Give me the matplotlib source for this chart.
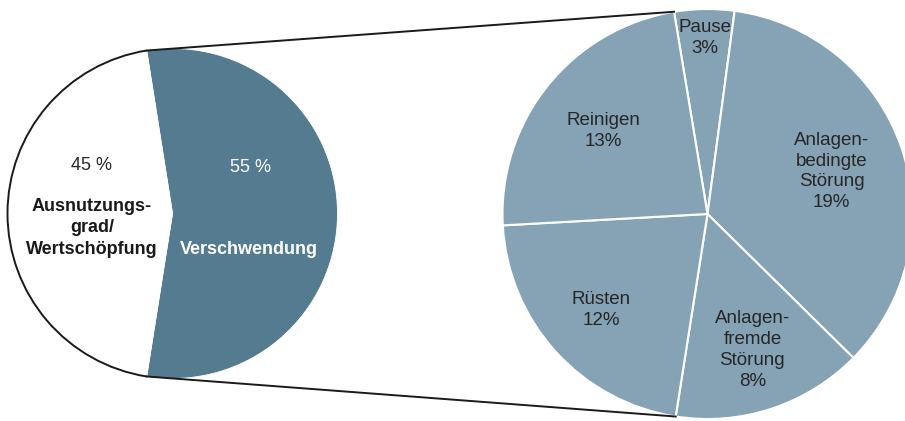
import numpy as np
import matplotlib.pyplot as plt
from matplotlib.patches import Arc

plt.rcParams['font.family'] = ['Liberation Sans', 'DejaVu Sans']

# Linke Torte: Anteil Verschwendung / Wertschöpfung
left_values = [55, 45]
left_pct = ['55 %', '45 %']
left_names = ['Verschwendung', 'Ausnutzungs-\ngrad/\nWertschöpfung']

# Rechte Torte: Aufteilung der Verschwendung (Winkel aus dem Bild geschätzt)
right_names = ['Pause', 'Anlagen-\nbedingte\nStörung', 'Anlagen-\nfremde\nStörung', 'Rüsten', 'Reinigen']
right_values = [2.6, 19.4, 8.3, 11.9, 12.8]
right_labels = ['3%', '19%', '8%', '12%', '13%']

W, H = 905, 421
dark = '#557b90'
light = '#86a3b6'

fig = plt.figure(figsize=(W / 100, H / 100), dpi=100)
ax = fig.add_axes([0, 0, 1, 1])
ax.set_xlim(0, W)
ax.set_ylim(0, H)
ax.set_aspect('equal')
ax.axis('off')

# linke Torte
lc, lr = (172.5, 207.5), 165
lw_, _ = ax.pie(left_values, colors=[dark, 'white'], startangle=99, counterclock=False,
                center=lc, radius=lr, frame=True,
                wedgeprops=dict(edgecolor='white', linewidth=0.6))
ax.add_patch(Arc(lc, 2 * lr, 2 * lr, theta1=lw_[1].theta1, theta2=lw_[1].theta2,
                 color='#1a1a1a', lw=1.4, zorder=3))

ax.text(91, H - 166, left_pct[1], ha='center', va='center', fontsize=13, color='#262626')
ax.text(92, H - 228, left_names[1], ha='center', va='center', fontsize=13,
        fontweight='bold', color='#1a1a1a', linespacing=1.32)
ax.text(250, H - 167, left_pct[0], ha='center', va='center', fontsize=13, color='white')
ax.text(249, H - 250, left_names[0], ha='center', va='center', fontsize=13,
        fontweight='bold', color='white')

# rechte Torte
rc, rr = (707.5, 207), 205
rw, _ = ax.pie(right_values, colors=[light] * 5, startangle=99.4, counterclock=False,
               center=rc, radius=rr, frame=True,
               wedgeprops=dict(edgecolor='white', linewidth=1.5))

label_dist = [0.86, 0.64, 0.70, 0.70, 0.65]
for w, name, lab, d in zip(rw, right_names, right_labels, label_dist):
    ang = np.deg2rad((w.theta1 + w.theta2) / 2)
    x = rc[0] + d * rr * np.cos(ang)
    y = rc[1] + d * rr * np.sin(ang)
    ax.text(x, y, name + '\n' + lab, ha='center', va='center', fontsize=13.5,
            color='#262626', linespacing=1.3)

# Verbindungslinien
def pt(c, r, a):
    return c[0] + r * np.cos(np.deg2rad(a)), c[1] + r * np.sin(np.deg2rad(a))

x1, y1 = pt(lc, lr, lw_[0].theta2)
x2, y2 = pt(rc, rr, rw[0].theta2)
ax.plot([x1, x2], [y1, y2], color='#1a1a1a', lw=1.4, zorder=4)
x1, y1 = pt(lc, lr, lw_[0].theta1)
x2, y2 = pt(rc, rr, rw[3].theta2)
ax.plot([x1, x2], [y1, y2], color='#1a1a1a', lw=1.4, zorder=4)

ax.set_xlim(0, W)
ax.set_ylim(0, H)
fig.savefig('out.png', dpi=100)
